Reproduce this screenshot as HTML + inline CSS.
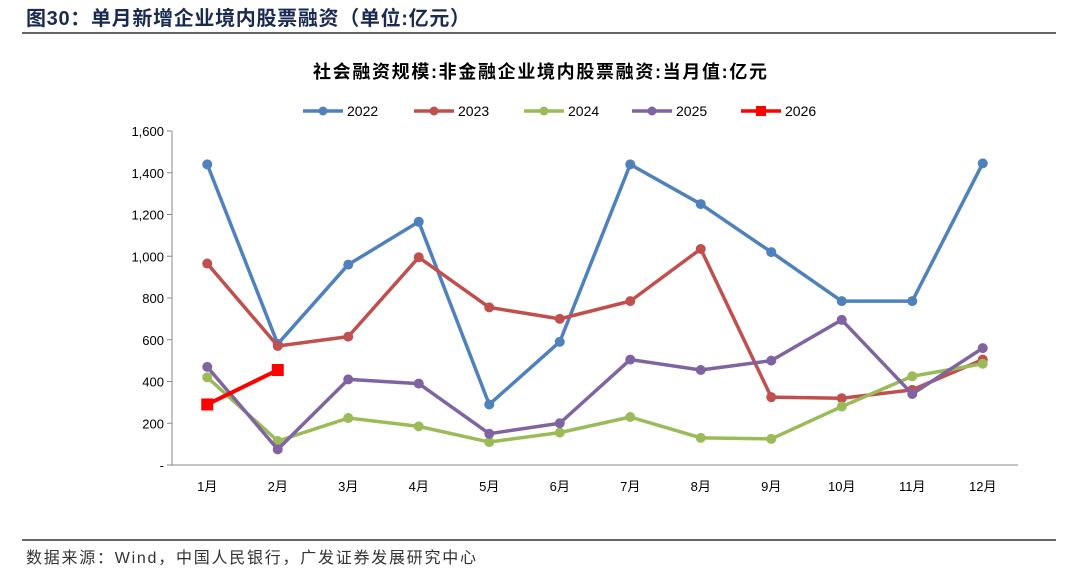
<!DOCTYPE html>
<html><head><meta charset="utf-8"><style>
body{margin:0;background:#fff;font-family:"Liberation Sans","Noto Sans CJK SC",sans-serif;}
</style></head><body>
<svg width="1080" height="578" xmlns="http://www.w3.org/2000/svg" font-family="Liberation Sans, Noto Sans CJK SC, sans-serif">
<text x="26" y="25" font-size="20" font-weight="bold" fill="#1a2a50" textLength="444" lengthAdjust="spacing">图30：单月新增企业境内股票融资（单位:亿元）</text>
<line x1="22" y1="33" x2="1056" y2="33" stroke="#333" stroke-width="1.5"/>
<text x="313" y="78" font-size="18" font-weight="bold" fill="#000" textLength="454" lengthAdjust="spacing">社会融资规模:非金融企业境内股票融资:当月值:亿元</text>
<g id="legend"></g>
<g id="axes"></g>
<g id="series"></g>
<line x1="22" y1="540" x2="1056" y2="540" stroke="#333" stroke-width="1.5"/>
<text x="26" y="563" font-size="16" fill="#333" textLength="450" lengthAdjust="spacing">数据来源：Wind，中国人民银行，广发证券发展研究中心</text>
</svg>
<script>
const categories=["1月","2月","3月","4月","5月","6月","7月","8月","9月","10月","11月","12月"];
const yTicks=[0,200,400,600,800,1000,1200,1400,1600];
const yTickLabels=["-","200","400","600","800","1,000","1,200","1,400","1,600"];
const seriesNames=["2022","2023","2024","2025","2026"];
const s2022=[1440,580,960,1165,290,590,1440,1250,1020,785,785,1445];
const s2023=[965,570,615,995,755,700,785,1035,325,320,360,505];
const s2024=[420,115,225,185,110,155,230,130,125,280,425,485];
const s2025=[470,75,410,390,150,200,505,455,500,695,340,560];
const s2026=[290,455];
const colors=["#4F81BD","#C0504D","#9BBB59","#8064A2","#FF0000"];
const allSeries=[s2022,s2023,s2024,s2025,s2026];
const NS="http://www.w3.org/2000/svg";
const x0=172,x1=1018,yBase=465,yTop=131;
const xs=i=>x0+(x1-x0)/categories.length*(i+0.5);
const ys=v=>yBase-(v/1600)*(yBase-yTop);
function mk(t,a,p){const e=document.createElementNS(NS,t);for(const k in a)e.setAttribute(k,a[k]);p.appendChild(e);return e;}
const ax=document.getElementById('axes');
const yl=mk('line',{x1:x0,y1:yTop,x2:x0,y2:yBase,stroke:'#888'},ax);


const xl=mk('line',{x1:x0,y1:yBase,x2:x1,y2:yBase,stroke:'#888'},ax);


yTicks.forEach((v,i)=>{
 mk('line',{x1:x0-5,y1:ys(v),x2:x0,y2:ys(v),stroke:'#888'},ax);
 const t=mk('text',{x:x0-8,y:ys(v)+5,'font-size':13,'text-anchor':'end',fill:'#000'},ax);
 t.textContent=yTickLabels[i];
 
 
});
categories.forEach((c,i)=>{
 const t=mk('text',{x:xs(i),y:yBase+26,'font-size':13,'text-anchor':'middle',fill:'#000'},ax);
 t.textContent=c;
 
 
});
const sg=document.getElementById('series');
allSeries.forEach((d,si)=>{
 const g=mk('g',{},sg);
 
 
 const w=si==4?4:3.5;
 mk('polyline',{points:d.map((v,i)=>xs(i)+','+ys(v)).join(' '),fill:'none',stroke:colors[si],'stroke-width':w,'stroke-linejoin':'round'},g);
 d.forEach((v,i)=>{
  let m;
  if(si==4)m=mk('rect',{x:xs(i)-6,y:ys(v)-6,width:12,height:12,fill:colors[si]},g);
  else m=mk('circle',{cx:xs(i),cy:ys(v),r:5,fill:colors[si]},g);
  
  
 });
});
const lg=document.getElementById('legend');
const lx=[303,414,524,632,741];
seriesNames.forEach((n,i)=>{
 const g=mk('g',{},lg);
 
 
 mk('line',{x1:lx[i],y1:111,x2:lx[i]+40,y2:111,stroke:colors[i],'stroke-width':3.5},g);
 if(i==4)mk('rect',{x:lx[i]+15,y:106,width:10,height:10,fill:colors[i]},g);
 else mk('circle',{cx:lx[i]+20,cy:111,r:4.5,fill:colors[i]},g);
 const t=mk('text',{x:lx[i]+44,y:116,'font-size':14,fill:'#000'},g);
 t.textContent=n;
});
</script>
</body></html>
